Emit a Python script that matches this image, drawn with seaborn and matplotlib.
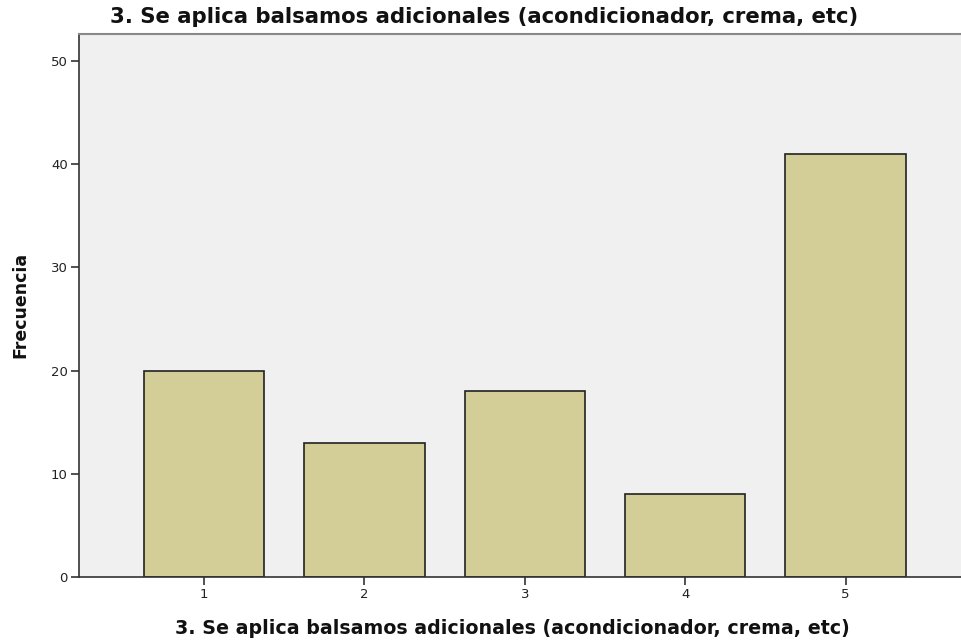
import pandas as pd
import matplotlib
matplotlib.use("Agg")
import matplotlib.pyplot as plt
import seaborn as sns

categories = ["1", "2", "3", "4", "5"]
frequencies = [20, 13, 18, 8, 41]
title_text = "3. Se aplica balsamos adicionales (acondicionador, crema, etc)"

df = pd.DataFrame({"cat": categories, "freq": frequencies})

sns.set_style("white")
plt.rcParams["font.family"] = ["DejaVu Sans"]

fig = plt.figure(figsize=(9.61, 6.42), dpi=100)
ax = fig.add_axes([79 / 961, 65 / 642, 1 - 79 / 961, (577 - 34) / 642])
ax.set_facecolor("#F0F0F0")

sns.barplot(x="cat", y="freq", data=df, color="#D3CE97", edgecolor="#222222",
            linewidth=1.2, width=0.75, saturation=1, ax=ax)

ax.set_xlim(-0.78, 4.72)
ax.set_ylim(0, 52.6)
ax.set_yticks([0, 10, 20, 30, 40, 50])
ax.set_xlabel("")
ax.set_ylabel("")
ax.tick_params(axis="both", direction="out", length=6, width=1.2, color="#333333",
               labelsize=9.5, labelcolor="#222222", pad=2, left=True, bottom=True)

for side in ["left", "bottom"]:
    ax.spines[side].set_color("#333333")
    ax.spines[side].set_linewidth(1.2)
ax.spines["top"].set_color("#888888")
ax.spines["top"].set_linewidth(1.5)
ax.spines["right"].set_visible(False)

fig.text(484 / 961, 1 - 17 / 642, title_text, ha="center", va="center",
         fontsize=15.3, fontweight="bold", color="#111111")
fig.text(512 / 961, 1 - 628 / 642, title_text, ha="center", va="center",
         fontsize=13.7, fontweight="bold", color="#111111")
fig.text(20 / 961, 1 - 305 / 642, "Frecuencia", ha="center", va="center",
         rotation=90, fontsize=12.5, fontweight="bold", color="#111111")

fig.savefig("out.png", dpi=100)
